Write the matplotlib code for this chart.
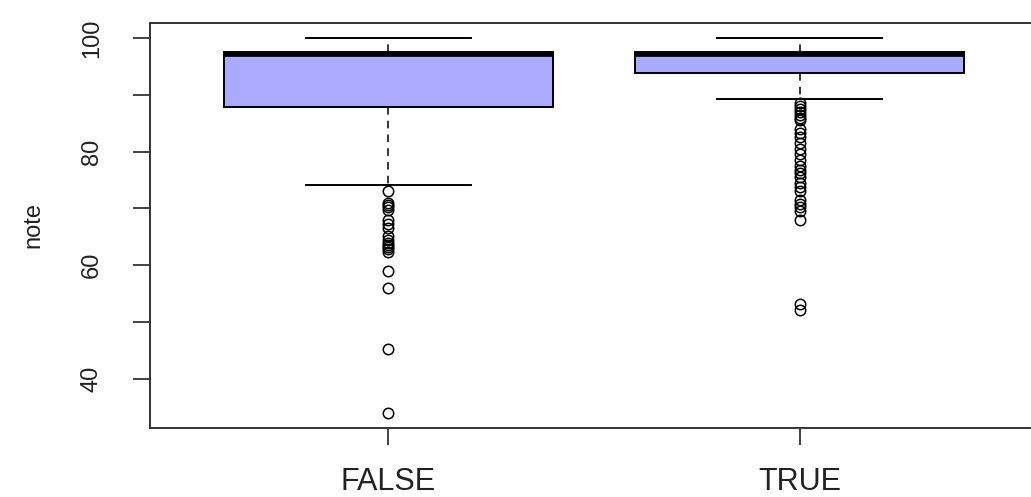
import matplotlib
matplotlib.use("Agg")
import matplotlib.pyplot as plt

# groups on the x axis
groups = ["FALSE", "TRUE"]

# five-number summaries for each group
whisker_low = [74.2, 89.3]
q1 = [87.9, 93.8]
median = [97.2, 97.2]
q3 = [97.5, 97.5]
whisker_high = [100.0, 100.0]

# points beyond the whiskers
outliers_false = [73.1, 71.0, 70.6, 70.2, 69.7, 68.0, 67.3, 66.5, 65.2, 64.5,
                  64.0, 63.6, 63.2, 62.8, 62.3, 59.0, 56.0, 45.3, 34.0]
outliers_true = [88.5, 88.0, 87.5, 87.0, 86.5, 86.0, 85.5, 84.0, 83.3, 82.5,
                 81.5, 80.5, 79.5, 78.5, 77.5, 76.8, 76.2, 75.5, 74.5, 73.8,
                 73.0, 71.5, 70.8, 70.2, 69.5, 68.0, 53.2, 52.1]

plt.rcParams['font.family'] = ['Liberation Sans', 'DejaVu Sans']

fig = plt.figure(figsize=(10.31, 4.97), dpi=100)
ax = fig.add_axes([150 / 1031, 69 / 497, 888 / 1031, 405 / 497])

stats = []
for i, name in enumerate(groups):
    stats.append(dict(label=name, whislo=whisker_low[i], q1=q1[i], med=median[i],
                      q3=q3[i], whishi=whisker_high[i],
                      fliers=[outliers_false, outliers_true][i]))

ax.bxp(stats, positions=[1, 2], widths=0.8, capwidths=0.4, patch_artist=True,
       boxprops=dict(facecolor="#AAAAFF", edgecolor="black", linewidth=1.4),
       medianprops=dict(color="black", linewidth=3.4, solid_capstyle="butt"),
       whiskerprops=dict(color="black", linewidth=1.1, linestyle=(0, (5, 4))),
       capprops=dict(color="black", linewidth=1.4),
       flierprops=dict(marker="o", markerfacecolor="none", markeredgecolor="black",
                       markersize=7.5, markeredgewidth=1.1, linestyle="none"))

ax.set_xlim(0.42, 2.58)
ax.set_ylim(31.36, 102.64)
ax.set_yticks([40, 50, 60, 70, 80, 90, 100])
ax.set_yticklabels(["40", "", "60", "", "80", "", "100"], rotation=90, va="center")
ax.tick_params(axis="y", length=12, width=1.2, pad=22, labelsize=17, colors="#222222")
ax.tick_params(axis="x", length=12, width=1.2, pad=16, labelsize=22, colors="#222222")
ax.set_ylabel("note", fontsize=17)
ax.yaxis.set_label_coords(-106 / 888, 0.5)
ax.yaxis.label.set_color("#222222")

for s in ax.spines.values():
    s.set_linewidth(1.4)
    s.set_color("#333333")

fig.savefig("out.png", dpi=100)
